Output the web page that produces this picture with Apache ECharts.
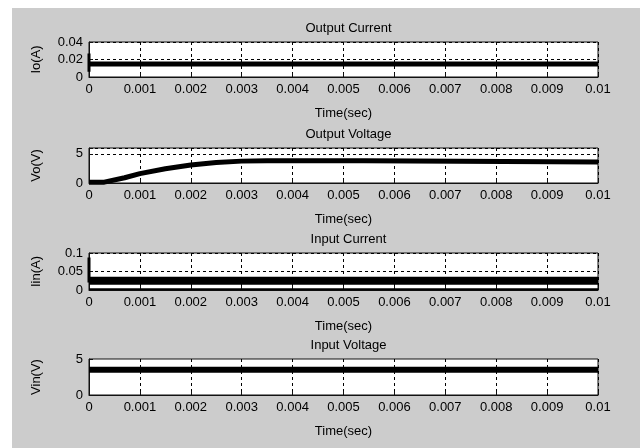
<!DOCTYPE html>
<html>
<head>
<meta charset="utf-8">
<script src="https://cdn.jsdelivr.net/npm/echarts@6/dist/echarts.min.js"></script>
<style>
  html, body { margin: 0; padding: 0; background: #fff; }
  #wrap { position: relative; width: 640px; height: 448px; background: #fff; }
  #chart { position: absolute; left: 12px; top: 8px; width: 628px; height: 440px; }
</style>
</head>
<body>
<div id="wrap"><div id="chart"></div></div>
<script>
// panel titles and axis names
const titles = ['Output Current', 'Output Voltage', 'Input Current', 'Input Voltage']
const yNames = ['Io(A)', 'Vo(V)', 'Iin(A)', 'Vin(V)']
const xName = 'Time(sec)'

// y ranges / tick step per panel
const yMax = [0.04, 6, 0.1, 5]
const yStep = [0.02, 5, 0.05, 5]

// [time, value] pairs
const ioSpike = [[0, 0.027], [0, 0.006]]
const ioMain = [[0, 0.015], [0.01, 0.015]]

const voMain = [
  [0, 0.15], [0.0003, 0.15], [0.0007, 0.9], [0.001, 1.6], [0.0015, 2.45],
  [0.002, 3.1], [0.0025, 3.5], [0.003, 3.75], [0.0035, 3.8], [0.0054, 3.8],
  [0.00541, 3.62], [0.01, 3.62]
]

const iinSpike = [[0, 0.088], [0, 0.02]]
const iinBand = [[0, 0.025], [0.01, 0.025]]
const iinLow = [[0, 0.002], [0.01, 0.002]]

const vinMain = [[0, 3.5], [0.01, 3.5]]

const chart = echarts.init(document.getElementById('chart'))

const font = 'Liberation Sans, Arial, sans-serif'
const fs = 13
const tops = [34, 140, 245, 351]
const heights = [35, 35, 37, 36]
const plotCenter = 77 + (628 - 77 - 42) / 2

const grids = tops.map((t, i) => ({
  left: 77, right: 42, top: t, height: heights[i],
  show: true, backgroundColor: '#fff', borderColor: '#111', borderWidth: 1
}))

const dashed = { show: true, lineStyle: { color: '#000', type: [3, 3], width: 1 } }

const xAxes = tops.map((t, i) => ({
  type: 'value', gridIndex: i, min: 0, max: 0.01, interval: 0.001,
  name: xName, nameLocation: 'middle', nameGap: 30,
  nameTextStyle: { fontFamily: font, fontSize: fs, color: '#000' },
  axisLine: { show: true, lineStyle: { color: '#111' } },
  axisTick: { show: true, inside: true, length: 4, lineStyle: { color: '#111' } },
  axisLabel: { fontFamily: font, fontSize: fs, color: '#000', margin: 6 },
  splitLine: dashed
}))

const yAxes = tops.map((t, i) => ({
  type: 'value', gridIndex: i, min: 0, max: yMax[i], interval: yStep[i],
  name: yNames[i], nameLocation: 'middle', nameGap: 46, nameRotate: 90,
  nameTextStyle: { fontFamily: font, fontSize: fs, color: '#000' },
  axisLine: { show: true, lineStyle: { color: '#111' } },
  axisTick: { show: true, inside: true, length: 4, lineStyle: { color: '#111' } },
  axisLabel: {
    fontFamily: font, fontSize: fs, color: '#000', margin: 6,
    formatter: v => (Math.abs(v / yStep[i] - Math.round(v / yStep[i])) < 1e-6 ? String(+v.toFixed(4)) : '')
  },
  splitLine: i === 3 ? { show: false } : dashed
}))

const line = (data, idx, width) => ({
  type: 'line', xAxisIndex: idx, yAxisIndex: idx, data,
  showSymbol: false, symbol: 'none', animation: false,
  lineStyle: { color: '#000', width }
})

const option = {
  backgroundColor: '#cccccc',
  animation: false,
  title: titles.map((t, i) => ({
    text: t, left: plotCenter, top: tops[i] - 25, textAlign: 'center',
    textStyle: { fontFamily: font, fontSize: fs, fontWeight: 'normal', color: '#000' }
  })),
  grid: grids,
  xAxis: xAxes,
  yAxis: yAxes,
  series: [
    line(ioMain, 0, 5),
    line(ioSpike, 0, 3),
    line(voMain, 1, 5),
    line(iinBand, 2, 8),
    line(iinLow, 2, 2),
    line(iinSpike, 2, 3),
    line(vinMain, 3, 6)
  ]
}

chart.setOption(option)
</script>
</body>
</html>
